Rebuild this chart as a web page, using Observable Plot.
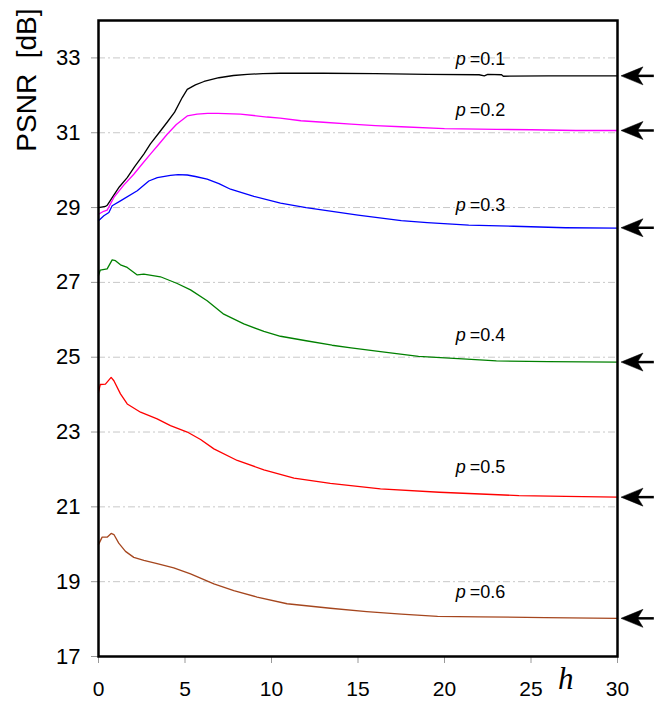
<!DOCTYPE html>
<html>
<head>
<meta charset="utf-8">
<script src="https://cdn.jsdelivr.net/npm/d3@7"></script>
<script src="https://cdn.jsdelivr.net/npm/@observablehq/plot@0.6"></script>
<style>
  html, body { margin: 0; padding: 0; background: #fff; }
</style>
</head>
<body>
<div id="chart"></div>
<script>
// ---- data (h, PSNR dB) ----
const p01 = [[0,29.0],[0.4,29.03],[0.5,29.06],[0.8,29.27],[1.2,29.55],[1.66,29.8],[2.1,30.1],[2.62,30.43],[3.0,30.7],[3.5,31.0],[4.0,31.3],[4.4,31.55],[4.84,31.94],[5.13,32.16],[5.6,32.28],[6.1,32.37],[6.96,32.47],[7.8,32.53],[8.6,32.56],[9.5,32.58],[10.5,32.59],[13,32.59],[16,32.58],[19,32.56],[22,32.55],[22.3,32.52],[22.5,32.56],[23.3,32.55],[23.4,32.51],[26,32.52],[30,32.52]];
const p02 = [[0,28.82],[0.3,28.9],[0.5,28.93],[0.89,29.27],[1.46,29.6],[2.04,29.89],[2.5,30.15],[3.0,30.43],[3.5,30.7],[3.97,30.96],[4.5,31.22],[5.13,31.45],[5.7,31.5],[6.3,31.52],[6.9,31.52],[8.2,31.5],[9.75,31.42],[10.5,31.39],[11.7,31.32],[13,31.28],[14.6,31.23],[16,31.19],[17.5,31.16],[20,31.11],[23,31.09],[25,31.08],[27.6,31.06],[30,31.06]];
const p03 = [[0,28.65],[0.31,28.78],[0.6,28.87],[0.79,29.05],[1.27,29.18],[2.24,29.45],[2.91,29.71],[3.4,29.8],[4.16,29.86],[4.6,29.88],[5.13,29.87],[5.6,29.83],[6.28,29.76],[6.96,29.64],[7.63,29.49],[8.98,29.3],[10.52,29.12],[12,29.0],[13.5,28.9],[15,28.8],[17.5,28.65],[19,28.6],[21.4,28.53],[24,28.5],[27,28.46],[30,28.45]];
const p04 = [[0,27.18],[0.1,27.33],[0.5,27.36],[0.79,27.6],[0.98,27.58],[1.27,27.47],[1.66,27.4],[2.24,27.2],[2.62,27.22],[3.58,27.15],[4.55,26.97],[5.32,26.8],[6.28,26.51],[7.24,26.15],[8.4,25.89],[9.56,25.69],[10.52,25.56],[12,25.44],[13.5,25.32],[14.6,25.25],[16.3,25.15],[18.5,25.02],[21.3,24.95],[23,24.9],[26,24.88],[30,24.87]];
const p05 = [[0,24.06],[0.1,24.27],[0.4,24.28],[0.73,24.46],[0.89,24.37],[1.27,24.02],[1.66,23.75],[2.43,23.53],[3.39,23.35],[4.16,23.17],[5.13,23.0],[5.9,22.8],[6.67,22.55],[8.02,22.24],[9.56,21.99],[11.3,21.77],[13.4,21.63],[16.3,21.48],[19.7,21.39],[24.3,21.3],[27,21.28],[30,21.26]];
const p06 = [[0,19.99],[0.21,20.19],[0.5,20.19],[0.73,20.29],[0.89,20.26],[1.17,20.03],[1.56,19.81],[2.04,19.65],[2.62,19.57],[3.39,19.48],[4.35,19.37],[5.32,19.21],[6.67,18.94],[7.82,18.76],[9.17,18.59],[10.9,18.41],[13.4,18.29],[15.5,18.2],[17.5,18.13],[19.6,18.07],[22,18.06],[25.8,18.04],[30,18.02]];

const seriesNames = ["0.1","0.2","0.3","0.4","0.5","0.6"];
const seriesColors = ["#000000","#ff00ff","#0000ff","#008000","#ff0000","#a5461e"];
const seriesData = [p01, p02, p03, p04, p05, p06];
// limit values marked by arrows on the right
const limitValues = [32.52, 31.06, 28.46, 24.87, 21.26, 18.02];
// label positions (h, dB)
const labelH = [21.4, 21.4, 21.4, 21.4, 21.4, 21.4];
const labelV = [32.96, 31.61, 29.06, 25.58, 22.05, 18.71];

const xTicks = [0, 5, 10, 15, 20, 25, 30];
const yTicks = [17, 19, 21, 23, 25, 27, 29, 31, 33];
const gridTicks = [19, 21, 23, 25, 27, 29, 31, 33];

// ---- build tables ----
const rows = seriesData.flatMap((s, i) => s.map(([h, v]) => ({h, v, p: seriesNames[i]})));
const limits = limitValues.map((v, i) => ({v, p: seriesNames[i]}));
const labels = seriesNames.map((p, i) => ({p, h: labelH[i], v: labelV[i]}));

const arrowHead = {
  draw(ctx) {
    ctx.moveTo(3.5, 0);
    ctx.lineTo(25.5, -9);
    ctx.lineTo(20, 0);
    ctx.lineTo(25.5, 9);
    ctx.closePath();
  }
};

const font = "'Liberation Sans', Arial, sans-serif";

const chart = Plot.plot({
  width: 670,
  height: 701,
  marginLeft: 98,
  marginRight: 53,
  marginTop: 20,
  marginBottom: 45,
  style: {fontFamily: font, fontSize: "22px", background: "#fff", color: "#000", overflow: "visible"},
  x: {domain: [0, 30], label: null},
  y: {domain: [17, 34], label: null},
  color: {domain: seriesNames, range: seriesColors},
  marks: [
    Plot.gridY(gridTicks, {stroke: "#c8c8c8", strokeOpacity: 1, strokeWidth: 1, strokeDasharray: "7,3,2,3"}),
    Plot.axisY({ticks: yTicks, tickSize: 7, tickPadding: 11, stroke: "#999", fill: "#000", fontSize: 22, label: null}),
    Plot.axisX({ticks: xTicks, tickSize: 7, tickPadding: 18, stroke: "#999", fill: "#000", fontSize: 21, label: null}),
    Plot.line(rows, {x: "h", y: "v", z: "p", stroke: "p", strokeWidth: 1.3}),
    Plot.text(labels, {x: "h", y: "v", text: d => "p", textAnchor: "end", dx: -3, fontStyle: "italic", fontSize: 18, fill: "#000"}),
    Plot.text(labels, {x: "h", y: "v", text: d => "=" + d.p, textAnchor: "start", dx: 1, fontSize: 18, fill: "#000"}),
    Plot.link(limits, {x1: 31.0, x2: 32.1, y1: "v", y2: "v", stroke: "#000", strokeWidth: 2.5}),
    Plot.dot(limits, {x: 30, y: "v", symbol: arrowHead, fill: "#000", stroke: "#000", strokeWidth: 0.5, r: 5}),
    Plot.frame({stroke: "#000", strokeWidth: 2.5}),
    Plot.text(["h"], {frameAnchor: "bottom-right", dx: -44, dy: 32, fontFamily: "'Liberation Serif', 'Times New Roman', serif", fontStyle: "italic", fontSize: 31, fill: "#000"}),
    Plot.text(["PSNR\u00a0 [dB]"], {frameAnchor: "top-left", dx: -71, dy: -12, rotate: -90, textAnchor: "end", lineAnchor: "middle", fontSize: 28, fill: "#000"})
  ]
});

document.getElementById("chart").appendChild(chart);
</script>
</body>
</html>
